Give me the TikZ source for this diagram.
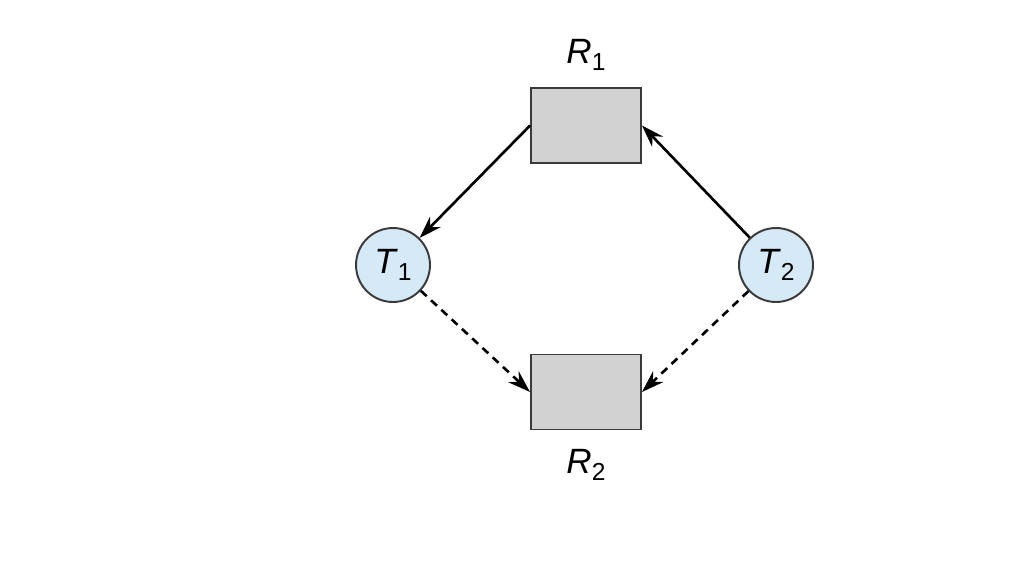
\documentclass[tikz,border=0pt]{standalone}
\usepackage{fontspec}
\setmainfont{Liberation Sans}
\usetikzlibrary{positioning,arrows.meta}

\definecolor{threadblue}{HTML}{D5E9F7}
\definecolor{resgray}{HTML}{D2D2D2}
\definecolor{edgegray}{HTML}{3A3A3A}

\newcommand{\lowsub}[1]{\raisebox{-0.35ex}{\fontsize{14}{16}\selectfont #1}}

\begin{document}
\begin{tikzpicture}[x=0.02cm, y=-0.02cm,
  thread/.style={draw=edgegray, line width=1.1pt, circle, fill=threadblue, minimum size=1.48cm, inner sep=0pt},
  res/.style={draw=edgegray, line width=1.1pt, rectangle, fill=resgray, minimum width=2.2cm, minimum height=1.5cm},
  lbl/.style={font=\fontsize{20}{23}\selectfont},
  grab/.style={line width=1.5pt, -{Stealth[length=4.5mm, width=3mm, inset=1.5mm]}},
  want/.style={grab, dash pattern=on 1.6mm off 1.2mm}]
\useasboundingbox (0,0) rectangle (1032,578);
\node[res] (r1) at (586,125.5) {};
\node[res] (r2) at (586,392) {};
\node[thread, lbl] (t1) at (393,265) {\textit{T}\lowsub{1}};
\node[thread, lbl] (t2) at (776,265) {\textit{T}\lowsub{2}};
\node[lbl] (r1name) at (586,55) {\textit{R}\lowsub{1}};
\node[lbl] (r2name) at (586,465) {\textit{R}\lowsub{2}};
\draw[grab] (r1.west) -- (t1);
\draw[grab] (t2) -- (r1.east);
\draw[want] (t1) -- (r2.west);
\draw[want] (t2) -- (r2.east);
\end{tikzpicture}
\end{document}
